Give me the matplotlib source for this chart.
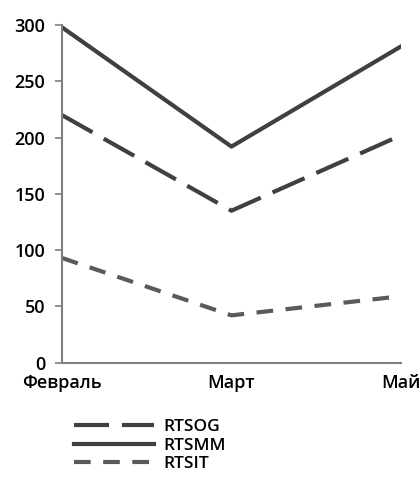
import matplotlib
matplotlib.use('Agg')
import matplotlib.pyplot as plt

plt.rcParams['font.family'] = ['Open Sans', 'DejaVu Sans']

months = ['Февраль', 'Март', 'Май']
rtsog = [220, 135, 202]
rtsmm = [298, 192, 281]
rtsit = [93, 42, 59]

fig = plt.figure(figsize=(4.2, 4.92), dpi=100)
ax = fig.add_axes([0.1476, 0.263, 0.807, 0.686])

x = range(len(months))
l1, = ax.plot(x, rtsog, color='#404040', lw=3, linestyle=(0, (8.4, 3.1)),
              dash_capstyle='butt', label='RTSOG')
l2, = ax.plot(x, rtsmm, color='#404040', lw=3, label='RTSMM')
l3, = ax.plot(x, rtsit, color='#5a5a5a', lw=3, linestyle=(0, (4, 3)),
              dash_capstyle='butt', label='RTSIT')

ax.set_xlim(0, 2)
ax.set_ylim(0, 300)
ax.set_yticks([0, 50, 100, 150, 200, 250, 300])
ax.set_xticks(list(x))
ax.set_xticklabels(months)

for s in ['top', 'right']:
    ax.spines[s].set_visible(False)
for s in ['left', 'bottom']:
    ax.spines[s].set_color('#808080')
    ax.spines[s].set_linewidth(1.5)

ax.tick_params(axis='y', length=5, width=1.2, color='#808080', pad=7,
               labelsize=13, labelcolor='black')
ax.tick_params(axis='x', length=0, pad=8, labelsize=13, labelcolor='black')
for lbl in ax.get_xticklabels() + ax.get_yticklabels():
    lbl.set_fontweight('semibold')

fig.legend(handles=[l1, l2, l3], loc='upper left',
           bbox_to_anchor=(0.16, 0.162), frameon=False,
           prop={'size': 12.5, 'weight': 'semibold'},
           handlelength=4.6, handletextpad=0.55, labelspacing=0.12,
           borderaxespad=0)

fig.savefig('out.png', dpi=100)
